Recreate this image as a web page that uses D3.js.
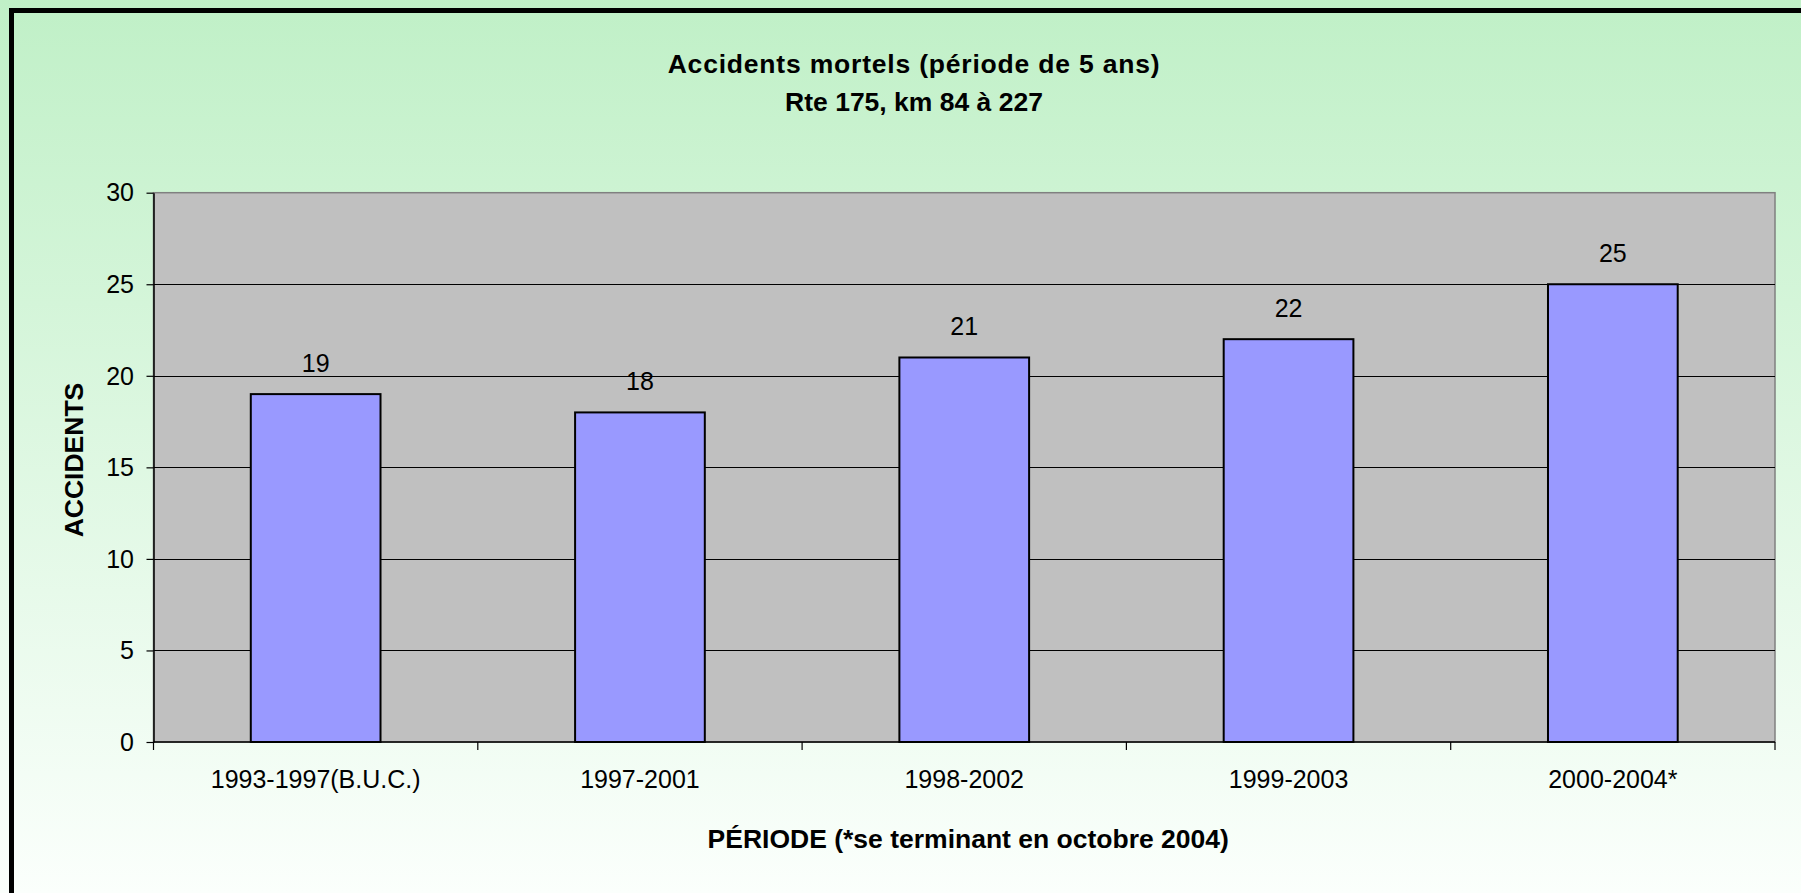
<!DOCTYPE html>
<html>
<head>
<meta charset="utf-8">
<script src="https://cdn.jsdelivr.net/npm/d3@7"></script>
<style>
  html, body { margin: 0; padding: 0; background: #fff; }
  svg { display: block; font-family: "Liberation Sans", Arial, sans-serif; }
</style>
</head>
<body>
<div id="chart"></div>
<script>
// Accidents mortels, périodes de 5 ans
const periods = ["1993-1997(B.U.C.)", "1997-2001", "1998-2002", "1999-2003", "2000-2004*"];
const accidents = [19, 18, 21, 22, 25];
const yTicks = [0, 5, 10, 15, 20, 25, 30];
const titleLines = ["Accidents mortels (période de 5 ans)", "Rte 175, km 84 à 227"];
const xTitle = "PÉRIODE (*se terminant en octobre 2004)";
const yTitle = "ACCIDENTS";

const W = 1801, H = 893;
const plot = { left: 153.5, top: 192.7, right: 1775, bottom: 742 };

const svg = d3.select("#chart").append("svg")
  .attr("width", W)
  .attr("height", H);

const defs = svg.append("defs");
const bg = defs.append("linearGradient")
  .attr("id", "bg")
  .attr("x1", 0).attr("y1", 0).attr("x2", 0).attr("y2", 1);
bg.append("stop").attr("offset", "0%").attr("stop-color", "#c0f0c7");
bg.append("stop").attr("offset", "100%").attr("stop-color", "#fbfffc");

svg.append("rect")
  .attr("width", W).attr("height", H)
  .attr("fill", "url(#bg)");

// outer frame (runs off the right and bottom edges)
svg.append("rect")
  .attr("x", 11.5).attr("y", 10.5)
  .attr("width", W + 50).attr("height", H + 50)
  .attr("fill", "none")
  .attr("stroke", "#000")
  .attr("stroke-width", 5);

const x = d3.scaleBand()
  .domain(periods)
  .range([plot.left, plot.right])
  .paddingInner(0.6)
  .paddingOuter(0.3);

const y = d3.scaleLinear()
  .domain([0, 30])
  .range([plot.bottom, plot.top]);

// plot area
svg.append("rect")
  .attr("x", plot.left).attr("y", plot.top)
  .attr("width", plot.right - plot.left)
  .attr("height", plot.bottom - plot.top)
  .attr("fill", "#c0c0c0")
  .attr("stroke", "#808080")
  .attr("stroke-width", 1.5);

// gridlines
svg.append("g")
  .selectAll("line")
  .data(yTicks.filter(d => d > 0 && d < 30))
  .join("line")
  .attr("x1", plot.left).attr("x2", plot.right)
  .attr("y1", d => Math.round(y(d)) + 0.5)
  .attr("y2", d => Math.round(y(d)) + 0.5)
  .attr("stroke", "#000")
  .attr("stroke-width", 1);

// bars
svg.append("g")
  .selectAll("rect")
  .data(accidents)
  .join("rect")
  .attr("x", (d, i) => x(periods[i]))
  .attr("y", d => y(d))
  .attr("width", x.bandwidth())
  .attr("height", d => y(0) - y(d))
  .attr("fill", "#9999ff")
  .attr("stroke", "#000")
  .attr("stroke-width", 2);

// value labels
svg.append("g")
  .selectAll("text")
  .data(accidents)
  .join("text")
  .attr("x", (d, i) => x(periods[i]) + x.bandwidth() / 2)
  .attr("y", d => y(d) - 22.5)
  .attr("text-anchor", "middle")
  .attr("font-size", 25)
  .attr("fill", "#000")
  .text(d => d);

// y axis
const yAxis = svg.append("g")
  .attr("transform", `translate(${plot.left},0)`)
  .call(d3.axisLeft(y).tickValues(yTicks).tickSize(7).tickSizeOuter(0).tickPadding(12.5));
yAxis.select(".domain").attr("stroke", "#000").attr("stroke-width", 1.5);
yAxis.selectAll(".tick line").attr("stroke", "#000").attr("stroke-width", 1.2);
yAxis.selectAll(".tick text")
  .attr("font-size", 25)
  .attr("font-family", "Liberation Sans, Arial, sans-serif")
  .attr("fill", "#000")
  .attr("dy", "0.33em");

// x axis line and boundary ticks
const xAxis = svg.append("g");
xAxis.append("line")
  .attr("x1", plot.left).attr("x2", plot.right)
  .attr("y1", plot.bottom).attr("y2", plot.bottom)
  .attr("stroke", "#000")
  .attr("stroke-width", 1.5);
xAxis.selectAll("line.tick")
  .data(d3.range(periods.length + 1))
  .join("line")
  .attr("class", "tick")
  .attr("x1", i => plot.left + i * x.step())
  .attr("x2", i => plot.left + i * x.step())
  .attr("y1", plot.bottom)
  .attr("y2", plot.bottom + 8)
  .attr("stroke", "#000")
  .attr("stroke-width", 1.2);
xAxis.selectAll("text")
  .data(periods)
  .join("text")
  .attr("x", d => x(d) + x.bandwidth() / 2)
  .attr("y", 788)
  .attr("text-anchor", "middle")
  .attr("font-size", 25)
  .attr("fill", "#000")
  .text(d => d);

// titles
svg.append("g")
  .selectAll("text")
  .data(titleLines)
  .join("text")
  .attr("x", 914)
  .attr("y", (d, i) => i === 0 ? 72.5 : 111)
  .attr("text-anchor", "middle")
  .attr("font-size", 26.5)
  .attr("font-weight", "bold")
  .attr("letter-spacing", (d, i) => i === 0 ? 0.8 : 0)
  .attr("fill", "#000")
  .text(d => d);

svg.append("text")
  .attr("x", (plot.left + plot.right) / 2 + 4)
  .attr("y", 848)
  .attr("text-anchor", "middle")
  .attr("font-size", 26.5)
  .attr("font-weight", "bold")
  .attr("fill", "#000")
  .text(xTitle);

svg.append("text")
  .attr("transform", `translate(83,460) rotate(-90)`)
  .attr("text-anchor", "middle")
  .attr("font-size", 26.5)
  .attr("font-weight", "bold")
  .attr("fill", "#000")
  .text(yTitle);
</script>
</body>
</html>
